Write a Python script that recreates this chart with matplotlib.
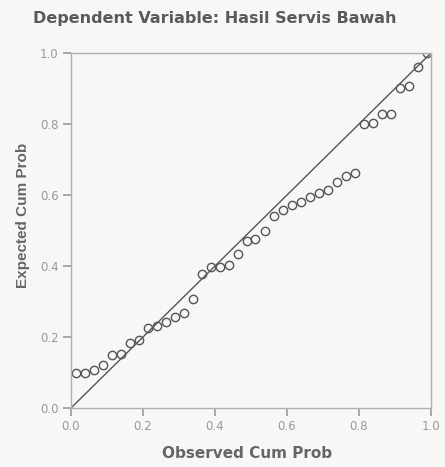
import matplotlib
matplotlib.use('Agg')
import matplotlib.pyplot as plt

observed = [0.0125, 0.0375, 0.0625, 0.0875, 0.1125, 0.1375, 0.1625, 0.1875,
            0.2125, 0.2375, 0.2625, 0.2875, 0.3125, 0.3375, 0.3625, 0.3875,
            0.4125, 0.4375, 0.4625, 0.4875, 0.5125, 0.5375, 0.5625, 0.5875,
            0.6125, 0.6375, 0.6625, 0.6875, 0.7125, 0.7375, 0.7625, 0.7875,
            0.8125, 0.8375, 0.8625, 0.8875, 0.9125, 0.9375, 0.9625, 0.9875]
expected = [0.100, 0.100, 0.106, 0.122, 0.149, 0.151, 0.184, 0.192,
            0.226, 0.232, 0.242, 0.257, 0.267, 0.308, 0.377, 0.398,
            0.398, 0.402, 0.433, 0.470, 0.475, 0.499, 0.542, 0.558,
            0.572, 0.581, 0.593, 0.605, 0.614, 0.637, 0.654, 0.663,
            0.799, 0.803, 0.827, 0.827, 0.902, 0.906, 0.961, 1.000]
ticks = [0.0, 0.2, 0.4, 0.6, 0.8, 1.0]
tick_labels = ['0.0', '0.2', '0.4', '0.6', '0.8', '1.0']

plt.rcParams['font.family'] = ['DejaVu Sans']

bg = '#f7f7f5'
fig = plt.figure(figsize=(4.45, 4.67), dpi=100, facecolor=bg)
ax = fig.add_axes([71 / 445, 59 / 467, 360 / 445, 355 / 467], facecolor=bg)

ax.plot([0, 1], [0, 1], color='#555555', linewidth=1.0)
ax.plot(observed, expected, linestyle='none', marker='o', markersize=6,
        markerfacecolor='none', markeredgecolor='#555555', markeredgewidth=1.0)

ax.set_xlim(0, 1)
ax.set_ylim(0, 1)
ax.set_xticks(ticks)
ax.set_xticklabels(tick_labels)
ax.set_yticks(ticks)
ax.set_yticklabels(tick_labels)
ax.tick_params(colors='#999999', labelcolor='#999999', labelsize=8.5,
               length=6, width=1.2, direction='out', pad=3)
for s in ax.spines.values():
    s.set_color('#b0b0b0')
    s.set_linewidth(1.0)

ax.set_xlabel('Observed Cum Prob', fontsize=11, fontweight='bold',
              color='#666666')
ax.xaxis.set_label_coords(0.489, -0.108)
ax.set_ylabel('Expected Cum Prob', fontsize=11, fontweight='bold',
              color='#666666', family='Liberation Sans')
ax.yaxis.set_label_coords(-0.113, 0.544)
fig.text(215 / 445, 1 - 18 / 467, 'Dependent Variable: Hasil Servis Bawah',
         ha='center', va='center', fontsize=11.5, fontweight='bold',
         color='#5a5a5a')

fig.savefig('out.png', dpi=100, facecolor=bg)
